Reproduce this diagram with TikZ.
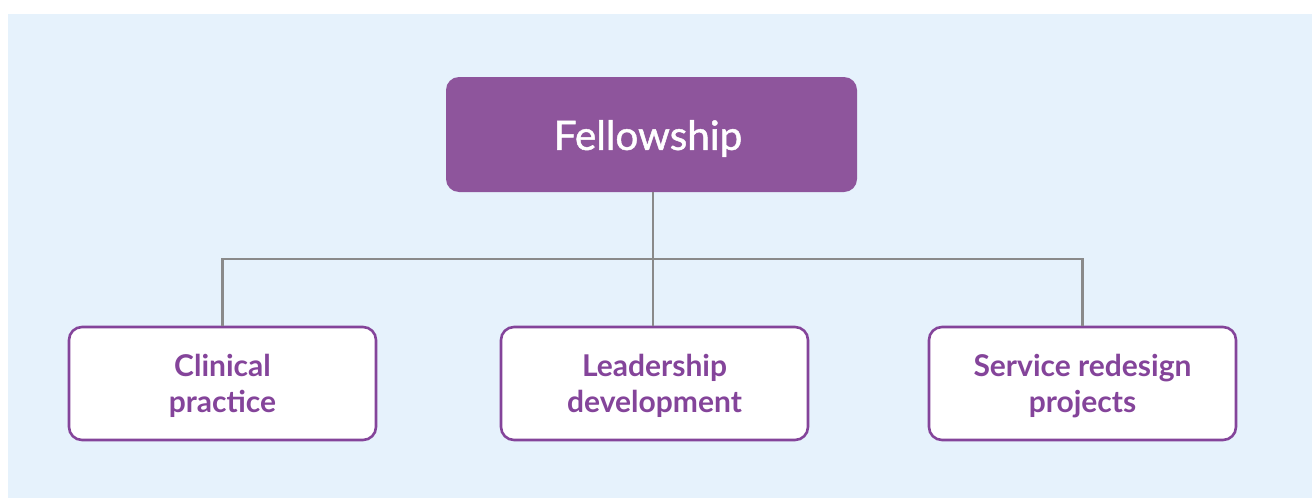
\documentclass[tikz,border=0pt]{standalone}
\usepackage{fontspec}
\setmainfont{Lato}
\newfontfamily\latomed[FakeBold=1.2]{Lato}
\definecolor{bgblue}{HTML}{E6F2FC}
\definecolor{topfill}{HTML}{8E559C}
\definecolor{childline}{HTML}{84449A}
\definecolor{conn}{HTML}{8A8A8A}
\tikzset{
  topbox/.style={draw=none, fill=topfill, rounded corners=13pt, minimum width=411pt, minimum height=115pt, text=white, inner sep=0pt},
  toptext/.style={text=white, font=\latomed\fontsize{40.5}{48}\selectfont, inner sep=0pt},
  childbox/.style={draw=childline, line width=2.6pt, fill=white, rounded corners=13pt, minimum width=307pt, minimum height=113pt, inner sep=0pt},
  childtext/.style={text=childline, font=\bfseries\fontsize{30}{36}\selectfont, align=center, inner sep=0pt},
  connector/.style={draw=conn, line width=2.6pt}
}
\begin{document}
\begin{tikzpicture}[x=1pt,y=-1pt]
\useasboundingbox (0,0) rectangle (1314,498);
\fill[bgblue] (8,14) rectangle (1312,498);
\node[topbox] (top) at (651.5,134.5) {};
\node[toptext] (toplabel) at (648,138.5) {Fellowship};
\node[childbox] (c1) at (222.5,383.5) {};
\node[childbox] (c2) at (654.5,383.5) {};
\node[childbox] (c3) at (1082.5,383.5) {};
\node[childtext] (t1) at (222.5,386) {Clinical\\practice};
\node[childtext] (t2) at (654.5,386) {Leadership\\development};
\node[childtext] (t3) at (1082.5,386) {Service redesign\\projects};
\coordinate (hl) at (222.5,259);
\coordinate (hr) at (1082.5,259);
\coordinate (hm) at (653,259);
\draw[connector] (653,0 |- top.south) -- (hm);
\draw[connector] (c1.north) -- (hl) -- (hr) -- (c3.north);
\draw[connector] (hm) -- (653,0 |- c2.north);
\end{tikzpicture}
\end{document}
